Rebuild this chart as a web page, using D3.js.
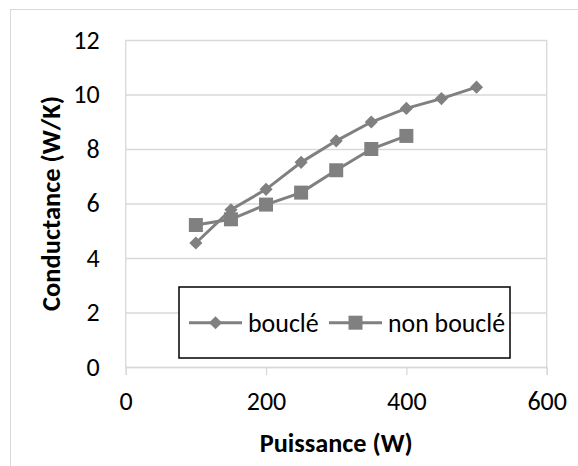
<!DOCTYPE html>
<html><head><meta charset="utf-8">
<script src="https://cdn.jsdelivr.net/npm/d3@7"></script>
<style>
html,body{margin:0;padding:0;background:#fff;}
svg{display:block;}
text{font-family:Carlito,"Open Sans",sans-serif;fill:#000;}
</style></head><body>
<svg id="c" width="578" height="466"></svg>
<script>
const powers = [100, 150, 200, 250, 300, 350, 400, 450, 500];
const boucle = [4.55, 5.77, 6.52, 7.51, 8.30, 8.99, 9.49, 9.85, 10.27];
const nonBoucle = [5.21, 5.42, 5.96, 6.40, 7.22, 8.00, 8.48];
const xTicks = [0, 200, 400, 600];
const yTicks = [0, 2, 4, 6, 8, 10, 12];
const seriesNames = ["bouclé", "non bouclé"];
const xTitle = "Puissance (W)";
const yTitle = "Conductance (W/K)";

const svg = d3.select("#c");
const L = 125.7, R = 546.7, T = 40, B = 367;
const x = d3.scaleLinear().domain([0, 600]).range([L, R]);
const y = d3.scaleLinear().domain([0, 12]).range([B, T]);
const grey = "#808080", gridC = "#d9d9d9";
const FS = 26;

// outer chart border
svg.append("rect").attr("x", 10.5).attr("y", 9.5).attr("width", 600).attr("height", 500)
  .attr("fill", "none").attr("stroke", gridC).attr("stroke-width", 1);

// gridlines + y labels
const yAxis = d3.axisLeft(y).tickValues(yTicks).tickSize(-(R - L)).tickFormat(d3.format("d"));
const gy = svg.append("g").attr("transform", `translate(${L},0)`).call(yAxis);
gy.select(".domain").remove();
gy.selectAll(".tick line").attr("stroke", gridC).attr("stroke-width", 1.3);
gy.selectAll(".tick text").attr("font-size", FS).attr("dy", "0.32em").attr("x", -26);

const xAxis = d3.axisBottom(x).tickValues(xTicks).tickSize(8).tickFormat(d3.format("d"));
const gx = svg.append("g").attr("transform", `translate(0,${B})`).call(xAxis);
gx.select(".domain").attr("stroke", gridC).attr("stroke-width", 1.3);
gx.selectAll(".tick line").attr("stroke", gridC).attr("stroke-width", 1.3);
gx.selectAll(".tick text").attr("font-size", FS).attr("y", 43).attr("dy", "0");

// left axis line and right plot border
svg.append("line").attr("x1", L).attr("x2", L).attr("y1", T).attr("y2", B).attr("stroke", gridC).attr("stroke-width", 1.3);
svg.append("line").attr("x1", R).attr("x2", R).attr("y1", T).attr("y2", B).attr("stroke", gridC).attr("stroke-width", 1.3);

const line = d3.line().x((d, i) => x(powers[i])).y(d => y(d));
const diamond = d3.symbol().type(d3.symbolSquare).size(86);
const square = d3.symbol().type(d3.symbolSquare).size(196);

// series: bouclé
svg.append("path").datum(boucle).attr("d", line).attr("fill", "none").attr("stroke", grey).attr("stroke-width", 3);
svg.append("g").selectAll("path").data(boucle).join("path")
  .attr("d", diamond).attr("fill", grey)
  .attr("transform", (d, i) => `translate(${x(powers[i])},${y(d)}) rotate(45)`);
// series: non bouclé
svg.append("path").datum(nonBoucle).attr("d", line).attr("fill", "none").attr("stroke", grey).attr("stroke-width", 3);
svg.append("g").selectAll("path").data(nonBoucle).join("path")
  .attr("d", square).attr("fill", grey)
  .attr("transform", (d, i) => `translate(${x(powers[i])},${y(d)})`);

// axis titles
function fit(sel, w) {
  sel.attr("textLength", w).attr("lengthAdjust", "spacingAndGlyphs");
}
const xt = svg.append("text").attr("x", (L + R) / 2).attr("y", 451.5).attr("text-anchor", "middle")
  .attr("font-weight", "bold").attr("font-size", FS).text(xTitle);
fit(xt, 153);
const yt = svg.append("text").attr("transform", `translate(59.5,${(T + B) / 2}) rotate(-90)`)
  .attr("text-anchor", "middle").attr("font-weight", "bold").attr("font-size", FS).text(yTitle);
fit(yt, 215);

// legend
const lg = svg.append("g");
lg.append("rect").attr("x", 179).attr("y", 287).attr("width", 331).attr("height", 71)
  .attr("fill", "#fff").attr("stroke", "#000").attr("stroke-width", 1.5);
const items = [
  {name: seriesNames[0], x1: 189, x2: 242, sym: diamond, rot: 45, tx: 248, w: 70.7},
  {name: seriesNames[1], x1: 329, x2: 382, sym: square, rot: 0, tx: 388, w: 117}
];
const ly = 322.7;
items.forEach(it => {
  lg.append("line").attr("x1", it.x1).attr("x2", it.x2).attr("y1", ly).attr("y2", ly)
    .attr("stroke", grey).attr("stroke-width", 3);
  lg.append("path").attr("d", it.sym).attr("fill", grey)
    .attr("transform", `translate(${(it.x1 + it.x2) / 2},${ly}) rotate(${it.rot})`);
  const t = lg.append("text").attr("x", it.tx).attr("y", 331.5)
    .attr("font-size", FS).text(it.name);
  fit(t, it.w);
});
</script>
</body></html>
